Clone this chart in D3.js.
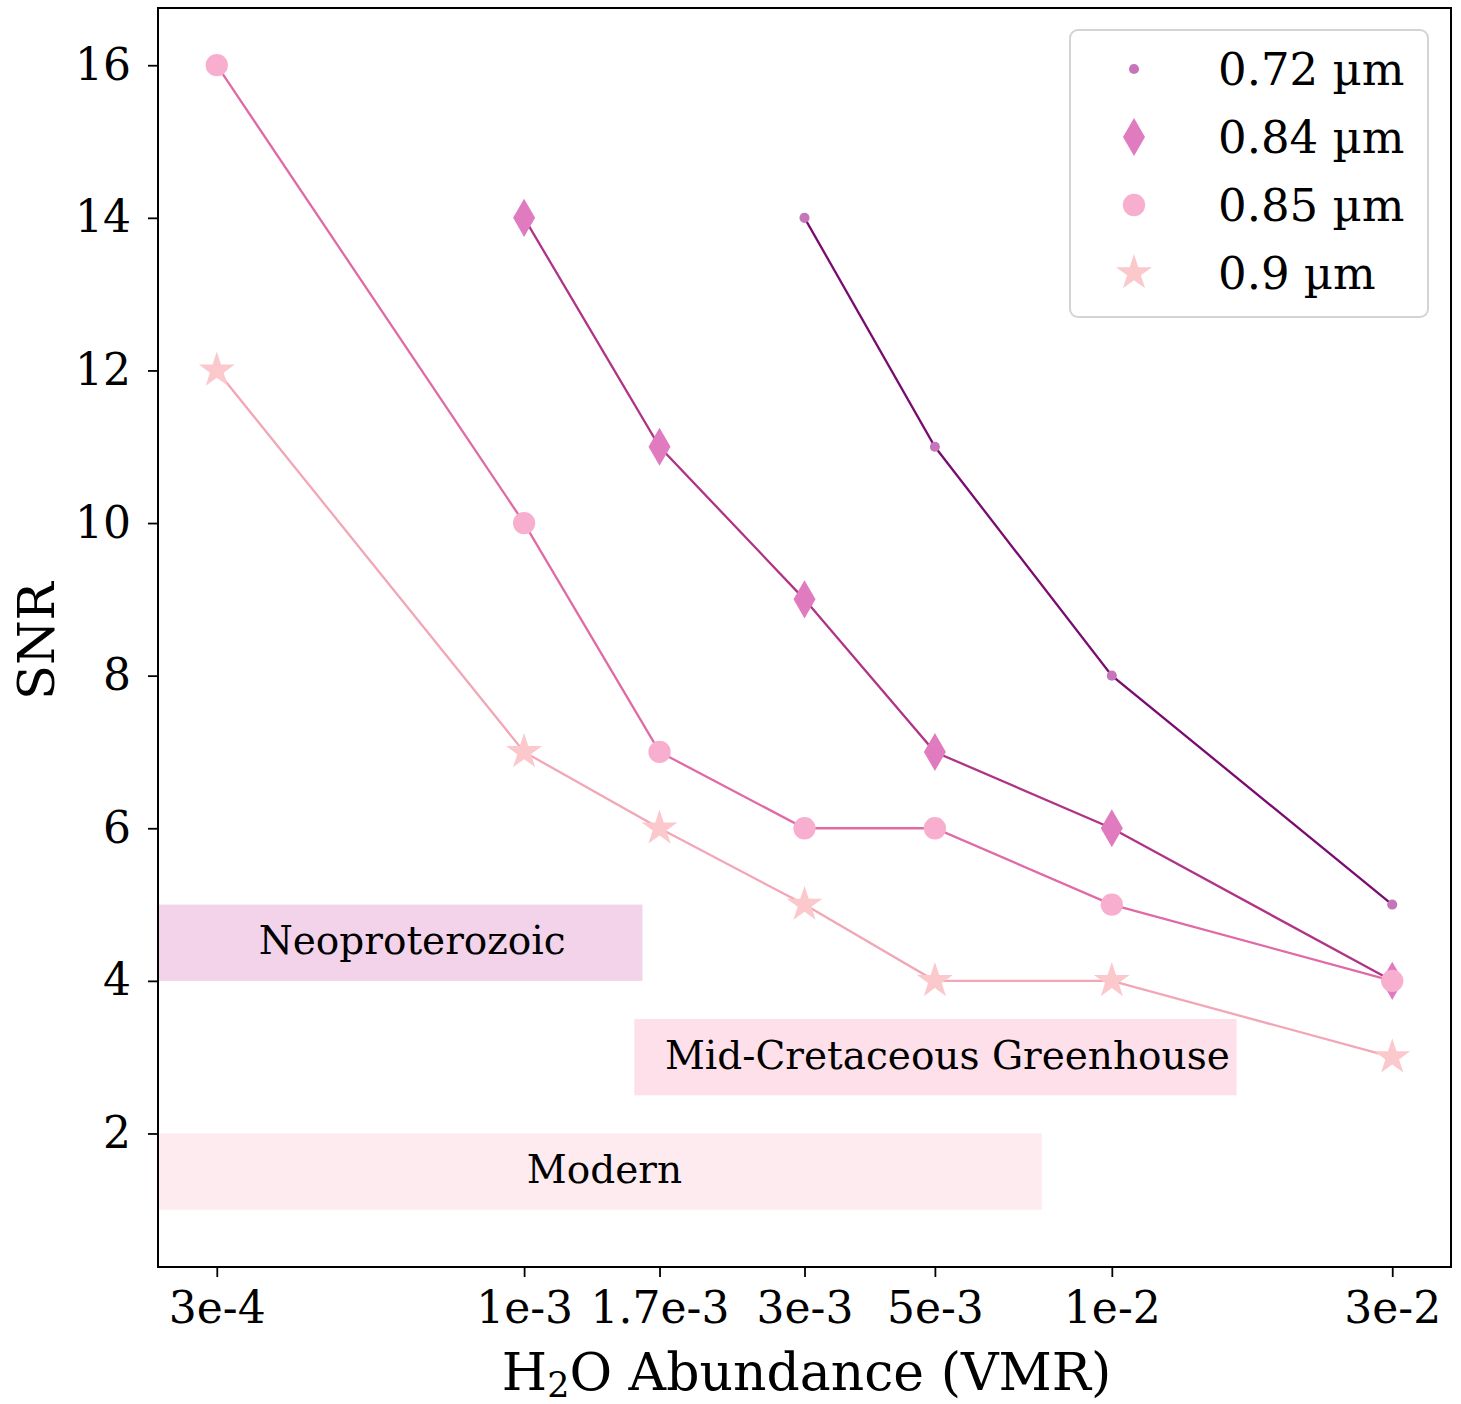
<!DOCTYPE html>
<html>
<head>
<meta charset="utf-8">
<script src="https://cdn.jsdelivr.net/npm/d3@7"></script>
<style>
  body { margin: 0; background: #fff; }
  text { font-family: "DejaVu Serif", serif; fill: #000; }
</style>
</head>
<body>
<div id="chart"></div>
<script>

// data
var xTicks = [3e-4, 1e-3, 1.7e-3, 3e-3, 5e-3, 1e-2, 3e-2];
var xTickLabels = ["3e-4", "1e-3", "1.7e-3", "3e-3", "5e-3", "1e-2", "3e-2"];
var yTicks = [2, 4, 6, 8, 10, 12, 14, 16];

var x072 = [3e-3, 5e-3, 1e-2, 3e-2];
var snr072 = [14, 11, 8, 5];
var x084 = [1e-3, 1.7e-3, 3e-3, 5e-3, 1e-2, 3e-2];
var snr084 = [14, 11, 9, 7, 6, 4];
var x085 = [3e-4, 1e-3, 1.7e-3, 3e-3, 5e-3, 1e-2, 3e-2];
var snr085 = [16, 10, 7, 6, 6, 5, 4];
var x09 = [3e-4, 1e-3, 1.7e-3, 3e-3, 5e-3, 1e-2, 3e-2];
var snr09 = [12, 7, 6, 5, 4, 4, 3];

var bandNames = ["Neoproterozoic", "Mid-Cretaceous Greenhouse", "Modern"];
var bandX0 = [2e-4, 1.54e-3, 2e-4];
var bandX1 = [1.59e-3, 1.63e-2, 7.6e-3];
var bandY0 = [4, 2.5, 1];
var bandY1 = [5, 3.5, 2];
var bandLabelX = [6.45e-4, 5.25e-3, 1.37e-3];

// set the dimensions and margins of the graph
var margin = {top: 8, right: 10, bottom: 137, left: 158},
    width = 1461 - margin.left - margin.right,
    height = 1404 - margin.top - margin.bottom;

var svg = d3.select("#chart")
  .append("svg")
    .attr("width", 1461)
    .attr("height", 1404)
  .append("g")
    .attr("transform", "translate(" + margin.left + "," + margin.top + ")");

var x = d3.scaleLog()
  .domain([Math.pow(10, -3.6229), Math.pow(10, -1.4229)])
  .range([0, width]);

var y = d3.scaleLinear()
  .domain([0.25, 16.75])
  .range([height, 0]);

svg.append("clipPath").attr("id", "clip")
  .append("rect").attr("width", width).attr("height", height);

// shaded regions
var bandFill = ["#f2d3ea", "#fde0ea", "#fdebef"];
var bands = svg.append("g").attr("clip-path", "url(#clip)");
bandNames.forEach(function (name, i) {
  bands.append("rect")
    .attr("x", x(bandX0[i]))
    .attr("y", y(bandY1[i]))
    .attr("width", x(bandX1[i]) - x(bandX0[i]))
    .attr("height", y(bandY0[i]) - y(bandY1[i]))
    .style("fill", bandFill[i]);
  svg.append("text")
    .attr("x", x(bandLabelX[i]))
    .attr("y", y((bandY0[i] + bandY1[i]) / 2))
    .attr("dy", "0.3em")
    .attr("text-anchor", "middle")
    .style("font-size", "39px")
    .text(name);
});

// series
var series = [
  {label: "0.72 µm", xs: x072, ys: snr072, line: "#7a0c70", mark: "#c575ba", shape: "dot"},
  {label: "0.84 µm", xs: x084, ys: snr084, line: "#b03486", mark: "#e07bbf", shape: "diamond"},
  {label: "0.85 µm", xs: x085, ys: snr085, line: "#e06aa6", mark: "#f8aecf", shape: "circle"},
  {label: "0.9 µm", xs: x09, ys: snr09, line: "#f2a6b6", mark: "#fbc8cc", shape: "star"}
];

function symbolFor(shape) {
  if (shape == "dot") return d3.symbol(d3.symbolCircle).size(80);
  if (shape == "diamond") return d3.symbol(d3.symbolDiamond).size(420);
  if (shape == "circle") return d3.symbol(d3.symbolCircle).size(390);
  return d3.symbol(d3.symbolStar).size(400);
}

var line = d3.line()
  .x(function (d) { return x(d[0]); })
  .y(function (d) { return y(d[1]); });

series.forEach(function (s) {
  var pts = s.xs.map(function (v, i) { return [v, s.ys[i]]; });
  svg.append("path")
    .datum(pts)
    .attr("d", line)
    .style("fill", "none")
    .style("stroke", s.line)
    .style("stroke-width", 2.3);
  svg.append("g")
    .selectAll("path")
    .data(pts)
    .enter()
    .append("path")
      .attr("transform", function (d) { return "translate(" + x(d[0]) + "," + y(d[1]) + ")"; })
      .attr("d", symbolFor(s.shape))
      .style("fill", s.mark);
});

// axes
var xAxis = svg.append("g")
  .attr("transform", "translate(0," + height + ")")
  .call(d3.axisBottom(x).tickValues(xTicks)
    .tickFormat(function (d, i) { return xTickLabels[i]; })
    .tickSize(10).tickPadding(15));
var yAxis = svg.append("g")
  .call(d3.axisLeft(y).tickValues(yTicks).tickSize(10).tickPadding(17));

[xAxis, yAxis].forEach(function (a) {
  a.select(".domain").remove();
  a.selectAll("line").style("stroke", "#000").style("stroke-width", 1.8);
  a.selectAll("text").style("font-size", "44px").style("font-family", "DejaVu Serif");
});

svg.append("rect")
  .attr("width", width).attr("height", height)
  .style("fill", "none").style("stroke", "#000").style("stroke-width", 2);

// axis labels
var xl = svg.append("text")
  .attr("x", width / 2 + 2)
  .attr("y", 1390 - margin.top)
  .attr("text-anchor", "middle")
  .style("font-size", "52px");
xl.append("tspan").text("H");
xl.append("tspan").attr("dy", 7).style("font-size", "35px").text("2");
xl.append("tspan").attr("dy", -7).text("O Abundance (VMR)");

svg.append("text")
  .attr("transform", "translate(" + (-104) + "," + (641 - margin.top) + ") rotate(-90)")
  .attr("text-anchor", "middle")
  .style("font-size", "51px")
  .text("SNR");

// legend
var lg = svg.append("g").attr("transform", "translate(" + (1070 - margin.left) + "," + (30 - margin.top) + ")");
lg.append("rect")
  .attr("width", 358).attr("height", 287).attr("rx", 8)
  .style("fill", "#fff").style("stroke", "#d4d4d4").style("stroke-width", 2);
series.forEach(function (s, i) {
  var row = lg.append("g").attr("transform", "translate(0," + (39 + i * 68) + ")");
  row.append("path")
    .attr("transform", "translate(64,0)")
    .attr("d", symbolFor(s.shape))
    .style("fill", s.mark);
  row.append("text")
    .attr("x", 148)
    .attr("dy", "0.36em")
    .style("font-size", "45px")
    .text(s.label);
});

</script>
</body>
</html>
